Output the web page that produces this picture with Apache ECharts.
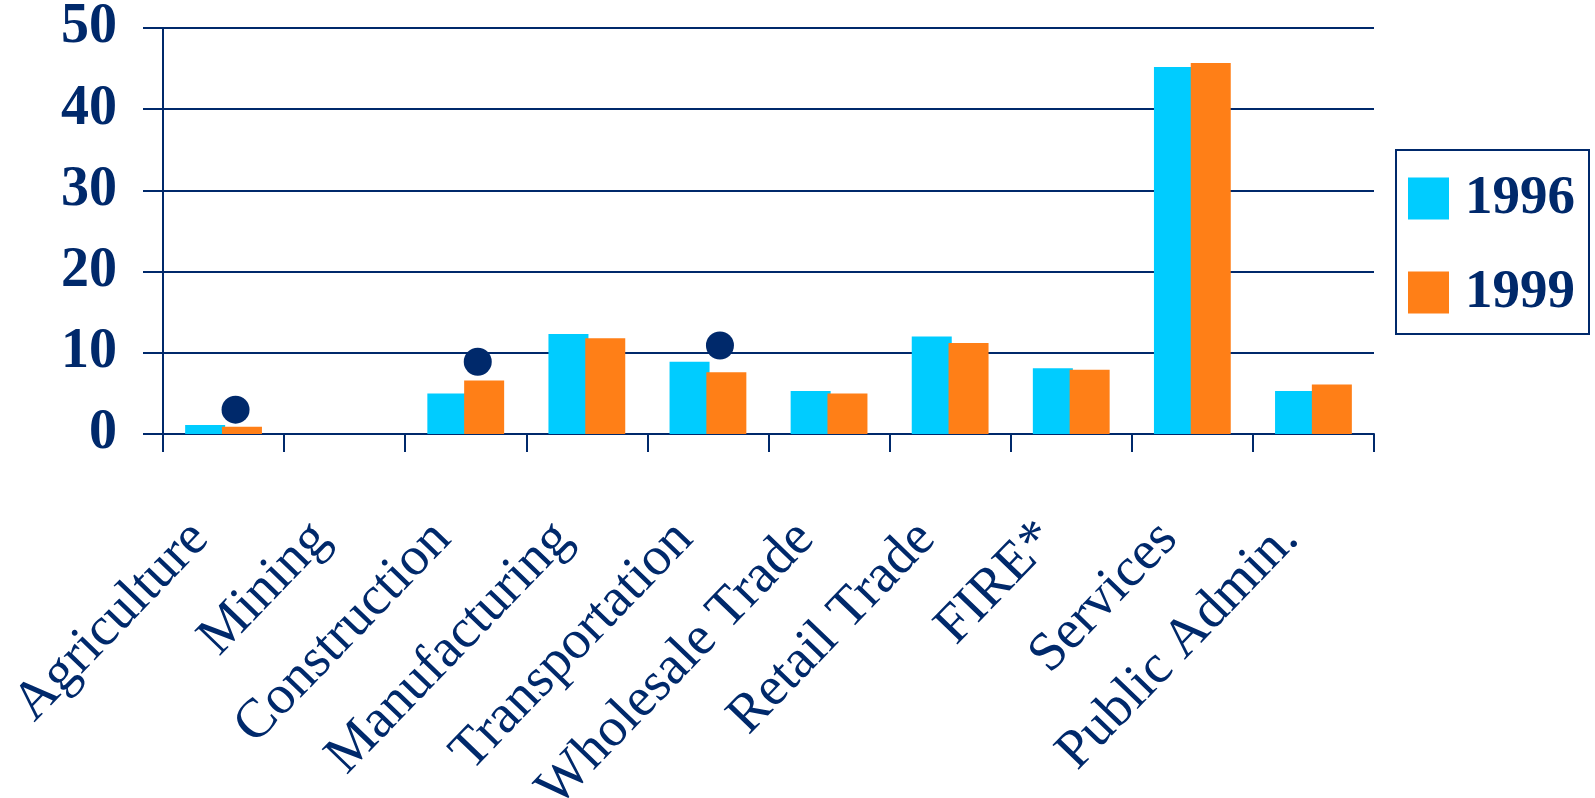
<!DOCTYPE html>
<html>
<head>
<meta charset="utf-8">
<script src="https://cdn.jsdelivr.net/npm/echarts@6/dist/echarts.min.js"></script>
<style>html,body{margin:0;padding:0;background:#fff}#c{width:1595px;height:798px}</style>
</head>
<body>
<div id="c"></div>
<script>
const categories = ['Agriculture','Mining','Construction','Manufacturing','Transportation','Wholesale Trade','Retail Trade','FIRE*','Services','Public Admin.'];
const values1996 = [1.1, null, 5.0, 12.3, 8.9, 5.3, 12.0, 8.1, 45.2, 5.3];
const values1999 = [0.9, null, 6.6, 11.8, 7.6, 5.0, 11.2, 7.9, 45.7, 6.1];
const markerValues = [3.0, null, 8.9, null, 10.9, null, null, null, null, null];
const yTicks = [0, 10, 20, 30, 40, 50];

const navy = '#00296B';
const serif = '"Liberation Serif", "Times New Roman", serif';
const chart = echarts.init(document.getElementById('c'));
chart.setOption({
  animation: false,
  grid: {left: 163, right: 221, top: 28, bottom: 364, containLabel: false, outerBoundsMode: 'none'},
  legend: {
    data: ['1996', '1999'],
    orient: 'vertical',
    left: 1396, top: 150,
    borderColor: navy, borderWidth: 2,
    padding: [21, 14, 14, 12],
    itemWidth: 41, itemHeight: 42, itemGap: 39,
    icon: 'rect',
    textStyle: {color: navy, fontFamily: serif, fontWeight: 'bold', fontSize: 55, lineHeight: 42, padding: [0, 0, 0, 11]}
  },
  xAxis: {
    type: 'category',
    data: categories,
    axisLine: {lineStyle: {color: navy, width: 2}},
    axisTick: {show: true, length: 18, lineStyle: {color: navy, width: 2}},
    axisLabel: {rotate: 46, color: navy, fontFamily: serif, fontSize: 55, margin: 72, interval: 0, padding: [0, 34, 0, 0]}
  },
  yAxis: {
    type: 'value', min: yTicks[0], max: yTicks[yTicks.length - 1], interval: 10,
    axisLine: {show: true, lineStyle: {color: navy, width: 2}},
    axisTick: {show: true, length: 20, lineStyle: {color: navy, width: 2}},
    splitLine: {lineStyle: {color: navy, width: 2}},
    axisLabel: {color: navy, fontFamily: serif, fontWeight: 'bold', fontSize: 56, margin: 46}
  },
  series: [
    {name: '1996', type: 'bar', data: values1996, barWidth: 40, barGap: '-8%', itemStyle: {color: '#00CCFF'}},
    {name: '1999', type: 'bar', data: values1999, barWidth: 40, itemStyle: {color: '#FF7F17'}},
    {name: 'marker', type: 'scatter', data: markerValues, symbol: 'circle', symbolSize: 28, symbolOffset: [12, 0], itemStyle: {color: navy, opacity: 1}, z: 5}
  ]
});
</script>
</body>
</html>
